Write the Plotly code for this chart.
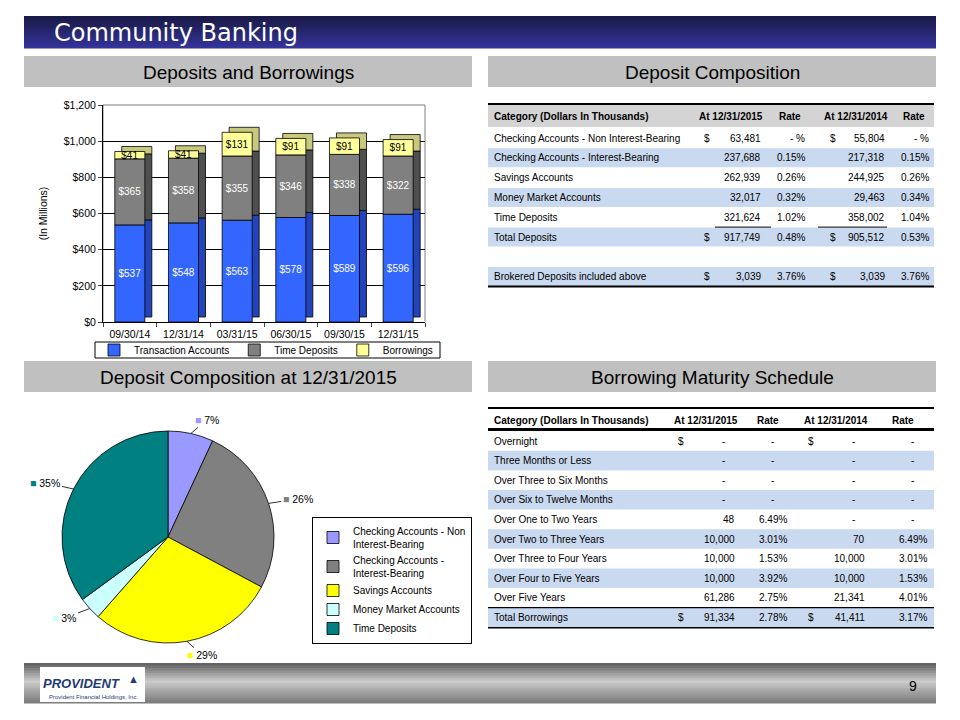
import math
import plotly.graph_objects as go

# ---- data -------------------------------------------------------------
dates = ["09/30/14", "12/31/14", "03/31/15", "06/30/15", "09/30/15", "12/31/15"]
transaction_accts = [537, 548, 563, 578, 589, 596]
time_deposits = [365, 358, 355, 346, 338, 322]
borrowings = [41, 41, 131, 91, 91, 91]

dep_cats = ["Checking Accounts - Non Interest-Bearing", "Checking Accounts - Interest-Bearing",
            "Savings Accounts", "Money Market Accounts", "Time Deposits"]
dep_2015 = [63481, 237688, 262939, 32017, 321624]
dep_rate_2015 = [None, 0.15, 0.26, 0.32, 1.02]
dep_2014 = [55804, 217318, 244925, 29463, 358002]
dep_rate_2014 = [None, 0.15, 0.26, 0.34, 1.04]
total_rate_2015, total_rate_2014 = 0.48, 0.53
brokered_2015, brokered_rate_2015 = 3039, 3.76
brokered_2014, brokered_rate_2014 = 3039, 3.76

pie_labels = ["Checking Accounts - Non<br>Interest-Bearing", "Checking Accounts -<br>Interest-Bearing",
              "Savings Accounts", "Money Market Accounts", "Time Deposits"]
pie_colors = ["#9999FF", "#808080", "#FFFF00", "#CCFFFF", "#008080"]

bor_cats = ["Overnight", "Three Months or Less", "Over Three to Six Months", "Over Six to Twelve Months",
            "Over One to Two Years", "Over Two to Three Years", "Over Three to Four Years",
            "Over Four to Five Years", "Over Five Years"]
bor_2015 = [None, None, None, None, 48, 10000, 10000, 10000, 61286]
bor_rate_2015 = [None, None, None, None, 6.49, 3.01, 1.53, 3.92, 2.75]
bor_2014 = [None, None, None, None, None, 70, 10000, 10000, 21341]
bor_rate_2014 = [None, None, None, None, None, 6.49, 3.01, 1.53, 4.01]
bor_total_rate_2015, bor_total_rate_2014 = 2.78, 3.17

# ---- helpers (page pixel coords -> paper; page puts the figure 8px in) ----
W, H = 960, 720
OFF = 8
ARIAL = "Liberation Sans, Arial, sans-serif"
BAND = "#C9D9EF"


def px(x):
    return (x - OFF) / W


def py(y):
    return 1 - (y - OFF) / H


fig = go.Figure()


def rect(x0, y0, x1, y1, fill, line_color=None, lw=0, layer="below"):
    fig.add_shape(type="rect", xref="paper", yref="paper", x0=px(x0), x1=px(x1), y0=py(y1), y1=py(y0),
                  fillcolor=fill, line=dict(color=line_color or fill, width=lw), layer=layer)


def hline(x0, x1, y, lw=1, color="black"):
    fig.add_shape(type="line", xref="paper", yref="paper", x0=px(x0), x1=px(x1), y0=py(y), y1=py(y),
                  line=dict(color=color, width=lw))


def label(x, y, s, anchor="left", size=10, color="black", bold=False, family=ARIAL):
    fig.add_annotation(x=px(x), y=py(y), xref="paper", yref="paper", showarrow=False,
                       text="<b>%s</b>" % s if bold else s, xanchor=anchor, yanchor="middle",
                       font=dict(size=size, color=color, family=family))


def num(v):
    return "-" if v is None else "{:,}".format(v)


def pct(r):
    return "-" if r is None else "%.2f%%" % r


def mix(c0, c1, t):
    return "rgb(%d,%d,%d)" % tuple(a + (b - a) * t for a, b in zip(c0, c1))


# ---- title bar / section headers / footer -------------------------------
n = 16
for i in range(n):
    y0 = 16 + i * 32 / n
    rect(24, y0, 936, y0 + 32 / n + 0.5, mix((26, 26, 72), (51, 51, 153), i / (n - 1)))
label(52, 33, "Community Banking", size=24, color="white", family="DejaVu Sans, Verdana, sans-serif")

for (x0, x1, y0, y1, txt) in [(24, 472, 56, 87, "Deposits and Borrowings"),
                              (488, 936, 56, 87, "Deposit Composition"),
                              (24, 472, 361, 392, "Deposit Composition at 12/31/2015"),
                              (488, 936, 361, 392, "Borrowing Maturity Schedule")]:
    rect(x0, y0, x1, y1, "#C0C0C0")
    label((x0 + x1) / 2, (y0 + y1) / 2 + 1, txt, anchor="center", size=19)

for i in range(n):
    t = i / (n - 1)
    c = mix((100, 100, 100), (205, 205, 205), t / 0.45) if t < 0.45 else mix((205, 205, 205), (125, 125, 125), (t - 0.45) / 0.55)
    y0 = 663 + i * 40 / n
    rect(24, y0, 936, y0 + 40 / n + 0.5, c)
rect(40, 667, 145, 702, "white")
fig.add_annotation(x=px(41), y=py(683), xref="paper", yref="paper", showarrow=False, xanchor="left",
                   yanchor="middle", text="<b><i>PROVIDENT</i></b>",
                   font=dict(size=13, color="#1F3A78", family=ARIAL))
label(126, 679, "▲", size=11, color="#1F3A78")
label(47, 697, "Provident Financial Holdings, Inc.", size=6, color="#1F3A78")
label(913, 686, "9", anchor="center", size=14)

# ---- stacked bar chart (with a pseudo 3-D back face) ---------------------
y_top, y_bot = 105, 322
depth_x = 0.13                           # in category widths
depth_y = 5 * 1200 / (y_bot - y_top)     # 5px expressed in data units
bw = 0.56
series = [("Transaction Accounts", transaction_accts, "#3366FF", "#2244B8", "white"),
          ("Time Deposits", time_deposits, "#808080", "#4F4F4F", "white"),
          ("Borrowings", borrowings, "#FFFF99", "#C8C880", "black")]
bases = []
running = [0] * len(dates)
for _, vals, _, _, _ in series:
    bases.append(list(running))
    running = [a + b for a, b in zip(running, vals)]

for (name, vals, color, side, tcol), base in zip(series, bases):
    fig.add_trace(go.Bar(x=dates, y=vals, base=[b + depth_y for b in base], width=bw,
                         offset=-bw / 2 + depth_x, showlegend=False, hoverinfo="skip",
                         marker=dict(color=side, line=dict(color="black", width=0.8))))
for (name, vals, color, side, tcol), base in zip(series, bases):
    fig.add_trace(go.Bar(x=dates, y=vals, base=base, name=name, width=bw, offset=-bw / 2,
                         legend="legend",
                         marker=dict(color=color, line=dict(color="black", width=0.8)),
                         text=["$%d" % v for v in vals], texttemplate="%{text}", textangle=0,
                         textposition="inside", insidetextanchor="middle",
                         textfont=dict(color=tcol, size=10, family=ARIAL)))
fig.add_shape(type="rect", xref="x domain", yref="y domain", x0=0, x1=1, y0=0, y1=1,
              line=dict(color="#808080", width=1), layer="below")
# legend frame (plotly's own frame is taller than the slide's)
rect(95, 342, 440, 358, "rgba(0,0,0,0)", line_color="black", lw=1, layer="above")

# ---- pie -----------------------------------------------------------------
cx, cy, r = 168, 537, 106
fig.add_trace(go.Pie(values=dep_2015, labels=pie_labels, sort=False, direction="clockwise",
                     marker=dict(colors=pie_colors, line=dict(color="black", width=0.8)),
                     textinfo="none", hoverinfo="label+percent", legend="legend2",
                     domain=dict(x=[px(cx - r), px(cx + r)], y=[py(cy + r), py(cy - r)])))
tot = sum(dep_2015)
cum = 0
for v, c in zip(dep_2015, pie_colors):
    frac = v / tot
    mid = (cum + frac / 2) * 2 * math.pi
    cum += frac
    sx, sy = math.sin(mid), -math.cos(mid)
    fig.add_annotation(x=px(cx + r * sx), y=py(cy + r * sy), xref="paper", yref="paper",
                       ax=18 * sx + (12 if sx > 0 else -12), ay=14 * sy,
                       showarrow=True, arrowhead=0, arrowwidth=0.8, arrowcolor="black",
                       text="<span style='color:%s'>■</span> %d%%" % (c, round(frac * 100)),
                       font=dict(size=10.5, family=ARIAL, color="black"))

# ---- deposit composition table -----------------------------------------
TX = [492, 702, 763, 807, 828, 887, 931]
rect(488, 104, 934, 127, "#D4D4D4")
hline(488, 934, 104, 2)
label(TX[0], 116, "Category (Dollars In Thousands)", bold=True)
label(731, 116, "At 12/31/2015", anchor="center", bold=True)
label(790, 116, "Rate", anchor="center", bold=True)
label(856, 116, "At 12/31/2014", anchor="center", bold=True)
label(914, 116, "Rate", anchor="center", bold=True)

pitch = 19.8
rows = []
for i, cat in enumerate(dep_cats):
    rows.append((cat, dep_2015[i], dep_rate_2015[i], dep_2014[i], dep_rate_2014[i], i == 0, i % 2 == 1))
rows.append(("Total Deposits", sum(dep_2015), total_rate_2015, sum(dep_2014), total_rate_2014, True, True))
rows.append(None)
rows.append(("Brokered Deposits included above", brokered_2015, brokered_rate_2015,
             brokered_2014, brokered_rate_2014, True, True))
for i, row in enumerate(rows):
    if row is None:
        continue
    yc = 138 + i * pitch
    cat, v15, r15, v14, r14, dollar, band = row
    if band:
        rect(488, yc - 9.5, 934, yc + 9.5, BAND)
    label(TX[0], yc, cat)
    if dollar:
        label(TX[1], yc, "$")
        label(TX[4], yc, "$")
    label(TX[2], yc, num(v15), anchor="right")
    label(TX[3], yc, "- %" if r15 is None else pct(r15), anchor="right")
    label(TX[5], yc, num(v14), anchor="right")
    label(TX[6], yc, "- %" if r14 is None else pct(r14), anchor="right")
y_tot = 138 + 4.5 * pitch
hline(715, 771, y_tot, 1)
hline(818, 887, y_tot, 1)
hline(488, 934, 138 + 7.5 * pitch, 2)

# ---- borrowing maturity table ------------------------------------------
BX = [492, 676, 737, 789, 806, 867, 929]
dash_x = [723, 772, 853, 912]
hline(488, 934, 408, 2)
label(BX[0], 420, "Category (Dollars In Thousands)", bold=True)
label(706, 420, "At 12/31/2015", anchor="center", bold=True)
label(768, 420, "Rate", anchor="center", bold=True)
label(836, 420, "At 12/31/2014", anchor="center", bold=True)
label(903, 420, "Rate", anchor="center", bold=True)
hline(488, 934, 429.5, 3)

bpitch = 19.6
brows = [(c, bor_2015[i], bor_rate_2015[i], bor_2014[i], bor_rate_2014[i], i == 0, i % 2 == 1)
         for i, c in enumerate(bor_cats)]
brows.append(("Total Borrowings", sum(v for v in bor_2015 if v), bor_total_rate_2015,
              sum(v for v in bor_2014 if v), bor_total_rate_2014, True, True))
for i, (cat, v15, r15, v14, r14, dollar, band) in enumerate(brows):
    yc = 441 + i * bpitch
    if band:
        rect(488, yc - 9.8, 934, yc + 9.8, BAND)
    label(BX[0], yc, cat)
    if dollar:
        label(BX[1], yc, "$")
        label(BX[4], yc, "$")
    for val, xr, xd in [(v15, BX[2], dash_x[0]), (v14, BX[5], dash_x[2])]:
        if val is None:
            label(xd, yc, "-", anchor="center")
        else:
            label(xr, yc, num(val), anchor="right")
    for val, xr, xd in [(r15, BX[3], dash_x[1]), (r14, BX[6], dash_x[3])]:
        if val is None:
            label(xd, yc, "-", anchor="center")
        else:
            label(xr, yc, pct(val), anchor="right")
hline(488, 934, 441 + 8.5 * bpitch, 1.2)
hline(488, 934, 441 + 9.5 * bpitch + 0.5, 1.5)

# ---- layout --------------------------------------------------------------
fig.update_layout(
    width=W, height=H, margin=dict(l=0, r=0, t=0, b=0, autoexpand=False),
    paper_bgcolor="white", plot_bgcolor="white",
    barmode="overlay",
    font=dict(family=ARIAL, size=10.5, color="black"),
    uniformtext=dict(mode="show", minsize=10),
    xaxis=dict(domain=[px(103), px(425)], showline=True, linecolor="black", ticks="outside",
               tickson="boundaries", ticklen=4, tickfont=dict(size=10.5), automargin=False,
               ticklabelstandoff=2),
    yaxis=dict(domain=[py(y_bot), py(y_top)], range=[0, 1200], dtick=200, tickprefix="$", tickformat=",",
               showgrid=True, gridcolor="black", gridwidth=1, showline=True, linecolor="black",
               ticks="outside", ticklen=4, tickfont=dict(size=10.5), automargin=False,
               title=dict(text="(In Millions)", font=dict(size=10.5), standoff=14)),
    legend=dict(orientation="h", x=px(266), y=py(350), xanchor="center", yanchor="middle",
                borderwidth=0, bgcolor="rgba(0,0,0,0)", font=dict(size=10),
                itemwidth=30, traceorder="normal"),
    legend2=dict(x=px(312), y=py(517), xanchor="left", yanchor="top", bordercolor="black",
                 borderwidth=1, bgcolor="white", font=dict(size=10), itemwidth=30),
)

fig.write_html("out.html")
